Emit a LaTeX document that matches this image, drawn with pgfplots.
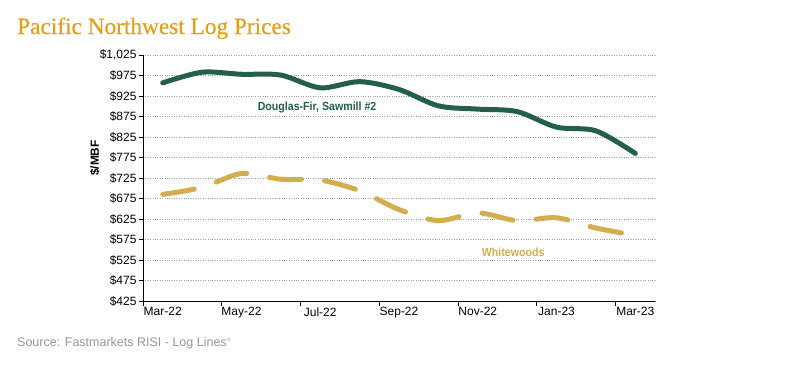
\documentclass[border=0pt]{standalone}
\usepackage{pgfplots}
\pgfplotsset{compat=1.18}
\usepackage{fontspec}
\setmainfont{Liberation Sans}
\newfontfamily\titlefont[FakeBold=0.4]{Liberation Serif}
\newfontfamily\condfont[FakeStretch=0.9]{Liberation Sans}
\definecolor{dfgreen}{RGB}{35,94,78}
\definecolor{wwgold}{RGB}{211,174,80}
\definecolor{titleorange}{RGB}{230,158,22}
\definecolor{srcgray}{RGB}{150,150,150}
\begin{document}
\begin{tikzpicture}
\path[use as bounding box] (0,0) rectangle (794bp,-369bp);
\node[anchor=base west, inner sep=0pt, text=titleorange, font=\titlefont\fontsize{23.3bp}{26bp}\selectfont] at (17bp,-34bp) {Pacific Northwest Log Prices};
\begin{axis}[
  at={(143bp,-301bp)}, anchor=south west,
  scale only axis, width=512bp, height=246bp,
  xmin=-0.5, xmax=12.5, ymin=425, ymax=1025,
  axis lines*=left,
  axis line style={-, black, line width=0.8bp},
  xtick={0,2,...,12},
  xticklabels={Mar-22,May-22,Jul-22,Sep-22,Nov-22,Jan-23,Mar-23},
  minor xtick={-0.5,1.5,...,11.5},
  ytick={425,475,...,1025},
  yticklabels={\$425,\$475,\$525,\$575,\$625,\$675,\$725,\$775,\$825,\$875,\$925,\$975,{\$1,025}},
  minor ytick={425,475,...,1025},
  major tick length=0pt, minor tick length=4.5bp,
  tick align=outside,
  tick style={black, line width=0.8bp},
  ymajorgrids,
  major grid style={gray!75, dotted, line width=0.7bp},
  ticklabel style={font=\fontsize{12bp}{14bp}\selectfont},
  yticklabel style={xshift=-3bp},
  xticklabel style={yshift=-3bp},
  clip=false,
]
\addplot[dfgreen, line width=5bp, smooth, line cap=round] coordinates {
(0,957) (1,983) (2,978) (3,976) (4,945) (5,960) (6,941) (7,901) (8,893) (9,887) (10,849) (11,840) (12,785)};
\addplot[wwgold, line width=5bp, smooth, line cap=round, dash pattern=on 32bp off 23.2bp] coordinates {
(0,685) (1,702) (2,736) (3,722) (4,720) (5,694) (6,648) (7,621) (8,640) (9,621) (10,628) (11,603) (12,585)};
\node[text=dfgreen, font=\condfont\bfseries\fontsize{11.8bp}{14bp}\selectfont] at (axis cs:3.92,896) {Douglas-Fir, Sawmill \#2};
\node[text=wwgold, font=\condfont\bfseries\fontsize{11.8bp}{14bp}\selectfont] at (axis cs:8.9,545) {Whitewoods};
\end{axis}
\node[rotate=90, font=\bfseries\fontsize{11.8bp}{14bp}\selectfont] at (95bp,-158bp) {\$/MBF};
\node[anchor=base west, inner sep=0pt, text=srcgray, font=\fontsize{12.5bp}{14bp}\selectfont] at (17bp,-346bp) {Source: Fastmarkets RISI - Log Lines\textsuperscript{\tiny\textregistered}};
\end{tikzpicture}
\end{document}
